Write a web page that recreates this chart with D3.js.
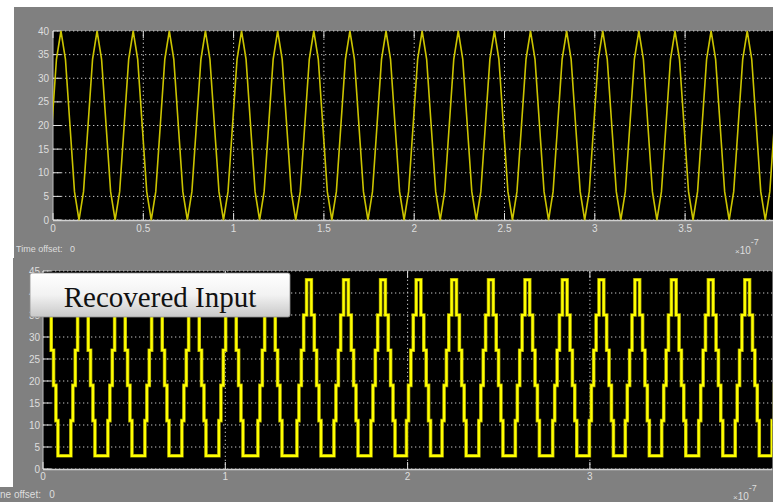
<!DOCTYPE html>
<html>
<head>
<meta charset="utf-8">
<script src="https://d3js.org/d3.v7.min.js"></script>
<style>
  body { margin: 0; background: #fff; }
  svg { display: block; }
</style>
</head>
<body>
<script>
    // ---- data (time axis in units of 1e-7 s) ----
    // top trace: one cycle sampled every 1/8 period around each peak
    let topOffsets = [-0.1, -0.075, -0.05, -0.025, 0, 0.025, 0.05, 0.075];
    let topValues  = [0, 6, 20, 34, 40, 34, 20, 6];
    let topPeaks = [0.044, 0.244, 0.444, 0.644, 0.844, 1.044, 1.244, 1.444, 1.644, 1.844,
                    2.044, 2.244, 2.444, 2.644, 2.844, 3.044, 3.244, 3.444, 3.644, 3.844, 4.044];

    // bottom trace: quantised staircase, step edges relative to each peak
    let stepOffsets = [-0.066, -0.055, -0.042, -0.029, -0.013, 0.013, 0.029, 0.042, 0.055, 0.066];
    let stepLevels  = [11, 19, 27, 35, 43, 35, 27, 19, 11, 3];
    let bottomPeaks = [0.016, 0.219, 0.422, 0.625, 0.828, 1.031, 1.245, 1.459, 1.662, 1.865,
                       2.060, 2.255, 2.457, 2.657, 2.862, 3.063, 3.260, 3.460, 3.663, 3.863, 4.065];

    let topYTicks = [0, 5, 10, 15, 20, 25, 30, 35, 40];
    let topXTicks = [0, 0.5, 1, 1.5, 2, 2.5, 3, 3.5];
    let bottomYTicks = [0, 5, 10, 15, 20, 25, 30, 35, 40, 45];
    let bottomXTicks = [0, 1, 2, 3];

    let width = 773;
    let height = 502;
    let svg = d3.select("body").append("svg")
        .attr("width", width)
        .attr("height", height)
        .style("font-family", "'Liberation Sans', Arial, sans-serif");

    let bg = "#808080";
    let labelColor = "#dedede";

    // scope window backgrounds
    svg.append("rect").attr("x", 14).attr("y", 7).attr("width", width - 14).attr("height", 251).attr("fill", bg);
    svg.append("rect").attr("x", 13).attr("y", 258).attr("width", width - 13).attr("height", height - 258).attr("fill", bg);
    svg.append("rect").attr("x", 0).attr("y", 487).attr("width", width).attr("height", height - 487).attr("fill", bg);

    let defs = svg.append("defs");
    let grad = defs.append("linearGradient").attr("id", "boxgrad")
        .attr("x1", 0).attr("y1", 0).attr("x2", 0).attr("y2", 1);
    grad.append("stop").attr("offset", "0%").attr("stop-color", "#ffffff");
    grad.append("stop").attr("offset", "50%").attr("stop-color", "#f2f2f2");
    grad.append("stop").attr("offset", "100%").attr("stop-color", "#c8c8c8");

    function drawAxes(g, x, y, xTicks, yTicks, id) {
        let [x0, x1] = x.range();
        let [y0, y1] = y.range();
        let right = Math.min(x1, width);

        g.append("rect")
            .attr("x", x0).attr("y", y1)
            .attr("width", right - x0).attr("height", y0 - y1)
            .attr("fill", "#000");

        defs.append("clipPath").attr("id", id)
            .append("rect")
            .attr("x", x0).attr("y", y1 - 2)
            .attr("width", right - x0).attr("height", y0 - y1 + 3);

        // dotted grid
        g.selectAll(".hgrid")
            .data(yTicks)
            .join("line")
            .attr("x1", x0).attr("x2", right)
            .attr("y1", d => y(d)).attr("y2", d => y(d))
            .attr("stroke", "#c4c4c4")
            .attr("stroke-width", 1)
            .attr("stroke-dasharray", "1.3,2.7");

        g.selectAll(".vgrid")
            .data(xTicks.filter(d => d > 0))
            .join("line")
            .attr("x1", d => x(d)).attr("x2", d => x(d))
            .attr("y1", y0).attr("y2", y1)
            .attr("stroke", "#c4c4c4")
            .attr("stroke-width", 1)
            .attr("stroke-dasharray", "1.3,2.7");

        // frame
        g.append("line").attr("x1", x0).attr("x2", right).attr("y1", y0 + 0.5).attr("y2", y0 + 0.5)
            .attr("stroke", "#d0d0d0").attr("stroke-width", 1.5);
        g.append("line").attr("x1", x0).attr("x2", x0).attr("y1", y1).attr("y2", y0)
            .attr("stroke", "#bdbdbd").attr("stroke-width", 1);

        // inward tick marks
        g.selectAll(".ytick")
            .data(yTicks)
            .join("line")
            .attr("x1", x0).attr("x2", x0 + 8)
            .attr("y1", d => y(d)).attr("y2", d => y(d))
            .attr("stroke", "#e0e0e0").attr("stroke-width", 1);

        g.selectAll(".xtickb")
            .data(xTicks)
            .join("line")
            .attr("x1", d => x(d)).attr("x2", d => x(d))
            .attr("y1", y0).attr("y2", y0 - 7)
            .attr("stroke", "#e0e0e0").attr("stroke-width", 1);

        g.selectAll(".xtickt")
            .data(xTicks)
            .join("line")
            .attr("x1", d => x(d)).attr("x2", d => x(d))
            .attr("y1", y1).attr("y2", y1 + 7)
            .attr("stroke", "#e0e0e0").attr("stroke-width", 1);
    }

    function drawLabels(g, x, y, xTicks, yTicks, yLabelX, xLabelY) {
        g.selectAll(".ylab")
            .data(yTicks)
            .join("text")
            .attr("x", yLabelX)
            .attr("y", d => y(d) + 3.5)
            .attr("text-anchor", "end")
            .attr("font-size", 10)
            .attr("fill", labelColor)
            .text(d => d);

        g.selectAll(".xlab")
            .data(xTicks)
            .join("text")
            .attr("x", d => x(d))
            .attr("y", xLabelY)
            .attr("text-anchor", "middle")
            .attr("font-size", 10)
            .attr("fill", labelColor)
            .text(d => d);
    }

    function expText(g, xPos, yBase) {
        let t = g.append("text")
            .attr("x", xPos).attr("y", yBase)
            .attr("font-size", 10)
            .attr("fill", labelColor);
        t.append("tspan").attr("font-size", 8).text("\u00d7");
        t.append("tspan").text("10");
        t.append("tspan").attr("dy", -9).attr("font-size", 9).text("-7");
    }

    // ---- top scope ----
    let xTop = d3.scaleLinear().domain([0, 4]).range([53, 775.4]);
    let yTop = d3.scaleLinear().domain([0, 40]).range([220, 31]);
    let gTop = svg.append("g");
    drawAxes(gTop, xTop, yTop, topXTicks, topYTicks, "clipTop");

    let topPoints = [];
    topPeaks.forEach(p => {
        topOffsets.forEach((o, i) => topPoints.push({t: p + o, v: topValues[i]}));
    });

    gTop.append("path")
        .datum(topPoints)
        .attr("clip-path", "url(#clipTop)")
        .attr("fill", "none")
        .attr("stroke", "#cbc400")
        .attr("stroke-width", 1.6)
        .attr("d", d3.line().x(d => xTop(d.t)).y(d => yTop(d.v)));

    drawLabels(gTop, xTop, yTop, topXTicks, topYTicks, 49, 232);
    expText(gTop, 735, 254);
    gTop.append("text")
        .attr("x", 16).attr("y", 252)
        .attr("font-size", 9)
        .attr("fill", labelColor)
        .attr("xml:space", "preserve")
        .text("Time offset:   0");

    // ---- bottom scope ----
    let xBot = d3.scaleLinear().domain([0, 4]).range([43, 772.2]);
    let yBot = d3.scaleLinear().domain([0, 45]).range([469, 271]);
    let gBot = svg.append("g");
    drawAxes(gBot, xBot, yBot, bottomXTicks, bottomYTicks, "clipBot");

    let stepPoints = [{t: 0, v: 35}];
    bottomPeaks.forEach(p => {
        stepOffsets.forEach((o, i) => {
            if (p + o > 0) stepPoints.push({t: p + o, v: stepLevels[i]});
        });
    });

    let stepLine = d3.line()
        .curve(d3.curveStepAfter)
        .x(d => xBot(d.t))
        .y(d => yBot(d.v));

    gBot.append("path")
        .datum(stepPoints)
        .attr("clip-path", "url(#clipBot)")
        .attr("fill", "none")
        .attr("stroke", "#a6a200")
        .attr("stroke-width", 3.6)
        .attr("d", stepLine);

    gBot.append("path")
        .datum(stepPoints)
        .attr("clip-path", "url(#clipBot)")
        .attr("fill", "none")
        .attr("stroke", "#ffff00")
        .attr("stroke-width", 2.2)
        .attr("d", stepLine);

    drawLabels(gBot, xBot, yBot, bottomXTicks, bottomYTicks, 40, 480);
    expText(gBot, 733, 500);
    gBot.append("text")
        .attr("x", 0).attr("y", 498)
        .attr("font-size", 10)
        .attr("fill", labelColor)
        .attr("xml:space", "preserve")
        .text("ne offset:   0");

    // title box
    svg.append("rect")
        .attr("x", 30).attr("y", 273)
        .attr("width", 260).attr("height", 44)
        .attr("rx", 2)
        .attr("fill", "url(#boxgrad)")
        .attr("stroke", "#8f8f8f")
        .attr("stroke-width", 0.8);

    svg.append("text")
        .attr("x", 160).attr("y", 307)
        .attr("text-anchor", "middle")
        .attr("font-family", "'Liberation Serif', 'Times New Roman', serif")
        .attr("font-size", 29)
        .attr("fill", "#111")
        .text("Recovered Input");
</script>
</body>
</html>
